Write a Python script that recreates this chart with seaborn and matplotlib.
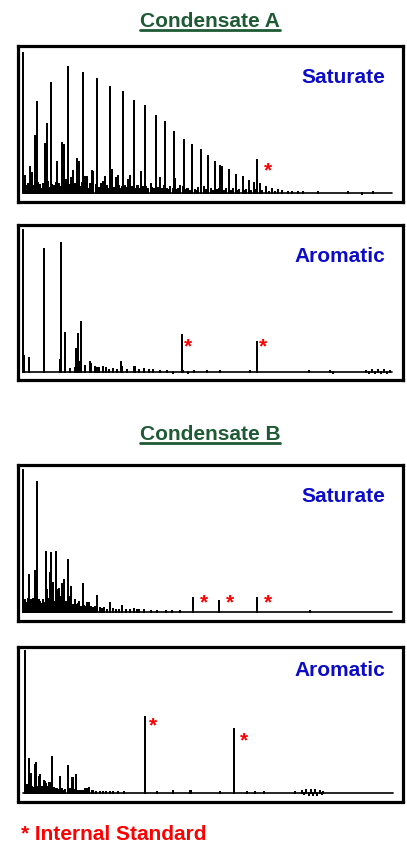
import pandas as pd
import matplotlib
matplotlib.use("Agg")
import matplotlib.pyplot as plt
from matplotlib.lines import Line2D
import seaborn as sns

# peak lists: (retention position 0-100, relative height 0-100)
sat_a_peaks = [
    (0.0, 100), (3.1, 40.7), (3.6, 64.8), (5.9, 34.9), (6.3, 49.3), (7.4, 78.9),
    (10.4, 35.4), (10.9, 34.2), (12.0, 90.4), (16.1, 85.9), (20.0, 81.6), (23.5, 75.8),
    (27.0, 72.2), (30.0, 65.8), (32.9, 62.2), (35.9, 55.0), (38.5, 50.5), (41.0, 43.5),
    (43.5, 38.0), (45.8, 34.2), (48.1, 30.4), (50.1, 26.3), (52.1, 22.0), (53.4, 19.4),
    (54.0, 18.7), (55.8, 16.0), (57.7, 12.9), (59.5, 11.0), (61.2, 8.4), (62.6, 7.2),
    (63.5, 23.4), (64.3, 6.0), (65.9, 4.3), (67.4, 2.9), (69.0, 1.9), (70.3, 1.2),
    (71.7, 0.7), (73.0, 0.5), (74.4, 0.4),
]
sat_a_minor = [
    (0.3, 12), (1.9, 18.7), (2.2, 14), (4.5, 5.5), (5.5, 4), (6.8, 3), (8.2, 4.5),
    (9.1, 22.3), (9.6, 6), (11.6, 9), (13.0, 10.5), (13.4, 15.8), (14.6, 24), (15.0, 22),
    (16.7, 11), (17.2, 11.5), (18.5, 15.8), (18.8, 15), (21.7, 8), (22.2, 11.3),
    (24.0, 16.3), (25.2, 10.5), (25.6, 12), (26.9, 4), (28.3, 9), (29.0, 12), (30.8, 4.5),
    (32.0, 15), (33.4, 4), (34.5, 6), (37.1, 10.3), (38.3, 5), (39.8, 4.3), (41.2, 9.6),
    (42.5, 5), (43.3, 4), (44.8, 3), (47.5, 3.2), (48.9, 4.3), (50.8, 3), (53.0, 2.5),
    (55.0, 2.5), (56.9, 2.5), (58.6, 2), (60.4, 2), (63.0, 1.8),
]
sat_a_grass = [
    (0.8, 4.5), (1.3, 6), (2.6, 5), (3.4, 3.5), (4.0, 7), (4.9, 3), (5.2, 6.5), (6.0, 4),
    (6.6, 8), (7.0, 3.5), (7.8, 5.5), (8.5, 3), (8.8, 7), (10.0, 4), (10.6, 6), (11.2, 3.5),
    (12.4, 5.5), (12.8, 3), (14.0, 6), (15.4, 4), (15.8, 7), (16.4, 3.5), (17.0, 5),
    (17.8, 3), (18.2, 6.5), (19.0, 4), (19.6, 5.5), (20.5, 3.5), (21.0, 6), (22.6, 4.5),
    (23.0, 3), (23.9, 5), (24.5, 3.5), (25.9, 4.5), (26.4, 3), (27.5, 5), (28.0, 3.5),
    (29.5, 4), (30.4, 3), (31.2, 5), (31.6, 3), (32.5, 4), (33.8, 3), (34.9, 3.5),
    (35.5, 2.5), (36.5, 3.5), (37.6, 2.5), (38.9, 3), (39.4, 2), (40.5, 3), (41.6, 2),
    (42.0, 3), (43.9, 2), (44.4, 2.5), (45.3, 1.5), (46.5, 2), (47.0, 1.5), (49.5, 2),
    (51.5, 1.5), (52.6, 2), (54.5, 1.5), (56.3, 1.5), (58.0, 1.2), (59.9, 1.2), (61.8, 1),
    (64.8, 1), (66.6, 0.8), (68.2, 0.6), (76.0, 0.3), (80.0, 0.3), (88.0, 0.2),
    (92.0, -0.6), (95.0, 0.6),
]
sat_a_stars = [(66.5, 19.9)]

aro_a_peaks = [
    (0.0, 100), (0.2, 11.3), (1.6, 9.9), (5.7, 86.6), (9.8, 8.2), (10.3, 91.1),
    (11.3, 27.5), (12.7, 1.6), (14.0, 2.4), (14.3, 16), (14.7, 26.6), (15.2, 7),
    (15.7, 35.3), (16.7, 4), (18.1, 6.6), (18.4, 5.5), (19.3, 3.5), (19.9, 2.4),
    (20.5, 2.4), (21.7, 3), (22.4, 2.4), (23.2, 1.4), (24.4, 1.6), (25.3, 1.2),
    (26.4, 7), (26.7, 3.5), (28.1, 1.4), (29.9, 3.5), (30.3, 3), (31.4, 1.2), (32.6, 1.6),
    (34.0, 1.0), (35.3, 1.2), (37.0, 0.8), (38.9, 0.7), (40.5, -0.8), (43.0, 25.9),
    (43.3, 0.5), (44.6, -0.6), (46.2, 0.5), (49.7, 0.4), (53.4, 0.5), (61.5, 0.4),
    (63.3, 20.7), (77.5, 0.4), (83.3, 0.6), (84.0, -0.6), (93.0, 0.8), (93.8, -0.8),
    (94.6, 1.0), (95.4, -0.9), (96.2, 0.9), (97.0, -0.8), (97.8, 1.0), (98.6, -0.7),
    (99.4, 0.8),
]
aro_a_stars = [(44.8, 21.9), (65.0, 21.9)]

sat_b_peaks = [
    (0.0, 100), (0.5, 8.3), (1.6, 25.9), (2.3, 8.2), (3.1, 28.7), (3.8, 91.3), (4.5, 7),
    (6.0, 14), (6.2, 41.9), (6.5, 15.3), (7.1, 27.5), (7.4, 41.2), (8.0, 20), (8.8, 42.4),
    (9.2, 15.3), (9.6, 15.8), (10.2, 10.6), (10.5, 19.5), (11.1, 22.4), (12.1, 36.5),
    (12.5, 10.6), (13.0, 17.6), (14.0, 8.2), (15.2, 7), (16.1, 19.5), (17.4, 6),
    (17.9, 6.4), (20.0, 11), (20.8, 2.4), (23.5, 6.4), (26.8, 4), (30.1, 2.1),
    (30.8, 1.2), (32.8, 1), (36.2, 0.5), (38.6, 0.3), (45.9, 9.4), (53.2, 7.8),
    (63.5, 9.4), (77.8, 0.3),
]
sat_b_grass = [
    (0.9, 6), (1.2, 9), (2.0, 8), (2.7, 9), (3.4, 7), (4.1, 8), (4.9, 5.5), (5.3, 8),
    (5.7, 6), (6.8, 9), (7.7, 8), (8.4, 7), (9.9, 6.5), (10.8, 5.5), (11.5, 7),
    (11.8, 5), (12.8, 6), (13.5, 5), (14.4, 4.5), (14.8, 5.5), (15.6, 3.5), (16.5, 4),
    (17.0, 3), (18.4, 3.5), (19.0, 2.5), (19.5, 3), (21.3, 2), (22.0, 2.5), (22.7, 1.5),
    (24.3, 2), (25.2, 1.5), (26.0, 1.5), (27.8, 1.2), (28.9, 1.5), (31.5, 1), (34.5, 0.8),
    (40.2, 0.3), (42.5, 0.2),
]
sat_b_stars = [(49.1, 10.6), (56.1, 10.6), (66.3, 10.6)]

aro_b_peaks = [
    (0.45, 100), (0.9, 5.4), (1.6, 23.7), (2.0, 13.1), (2.4, 4.2), (3.1, 19.5),
    (3.3, 20.7), (4.1, 11.3), (4.4, 12.4), (5.0, 4.2), (5.5, 8), (5.9, 7.7), (6.2, 6),
    (7.0, 6.6), (7.2, 6.6), (7.7, 24.9), (8.6, 2.3), (9.5, 1.9), (10.0, 11.3),
    (10.9, 1.4), (12.1, 18.8), (13.1, 10.6), (13.4, 10.1), (14.3, 12.4), (14.7, 1.4),
    (15.4, 0.9), (16.7, 2.3), (17.4, 2.8), (17.9, 3.0), (19.0, 0.9), (20.8, 0.7),
    (22.5, 0.5), (24.4, 0.5), (27.3, 0.5), (32.9, 53.5), (36.2, 0.7), (40.7, 1.2),
    (45.2, 1.2), (45.4, 0.9), (53.4, 0.5), (57.1, 44.8), (60.6, 0.5), (62.9, 0.7),
    (65.2, 0.5), (73.8, 0.5), (75.6, 1.0), (76.2, -1.2), (76.8, 1.6), (77.4, -1.5),
    (78.0, 1.8), (78.6, -1.6), (79.2, 2.0), (79.8, -1.4), (80.4, 1.5), (81.0, -1.0),
    (81.4, 0.8),
]
aro_b_grass = [
    (1.1, 3), (2.7, 3.5), (3.7, 4), (4.7, 3), (6.5, 4), (8.2, 3), (9.0, 2.5), (10.5, 2.5),
    (11.4, 2), (12.6, 2.5), (13.8, 2), (15.9, 1.5), (16.2, 1.2), (18.5, 1.2), (19.8, 0.8),
    (21.6, 0.6), (23.5, 0.5), (25.8, 0.4),
]
aro_b_stars = [(35.3, 51.7), (60.0, 40.6)]

panel_titles = ["Condensate A", "Condensate B"]
panel_labels = ["Saturate", "Aromatic", "Saturate", "Aromatic"]
legend_text = "* Internal Standard"

GREEN = "#1e5b35"
BLUE = "#0c0cc8"
RED = "#ff0000"
FONT = "Liberation Sans"

W, H = 407, 844


def build_trace(peaks, end):
    rows = [(0.0, 0.0)]
    for rt, h in sorted(peaks):
        rows += [(rt, 0.0), (rt, h), (rt, 0.0)]
    rows.append((end, 0.0))
    return pd.DataFrame(rows, columns=["rt", "signal"])


sns.set_style("white")
plt.rcParams["font.family"] = [FONT, "DejaVu Sans"]

fig = plt.figure(figsize=(W / 100, H / 100), dpi=100)

# (peaks, stars, label, top px, bottom px, ylim, label baseline px, trace end)
panels = [
    (sat_a_peaks + sat_a_minor + sat_a_grass, sat_a_stars, panel_labels[0],
     45.5, 201.5, (-6.3, 105.6), 83, 100.0),
    (aro_a_peaks, aro_a_stars, panel_labels[1], 224.5, 379.5, (-5.5, 103.9), 262, 100.0),
    (sat_b_peaks + sat_b_grass, sat_b_stars, panel_labels[2],
     464.5, 620.5, (-6.2, 103.9), 502, 100.0),
    (aro_b_peaks + aro_b_grass, aro_b_stars, panel_labels[3],
     646.5, 801.5, (-6.2, 103.0), 676, 100.3),
]

left_px, right_px = 17.5, 402.5
for peaks, stars, label, top, bottom, ylim, lab_y, end in panels:
    ax = fig.add_axes([left_px / W, 1 - bottom / H, (right_px - left_px) / W, (bottom - top) / H])
    df = build_trace(peaks, end)
    sns.lineplot(data=df, x="rt", y="signal", sort=False, estimator=None,
                 color="black", lw=1.2, ax=ax)
    ax.set_xlim(-1.6, 102.9)
    ax.set_ylim(*ylim)
    ax.set_xticks([])
    ax.set_yticks([])
    ax.set_xlabel("")
    ax.set_ylabel("")
    for sp in ax.spines.values():
        sp.set_visible(True)
        sp.set_linewidth(2.3)
        sp.set_color("black")
    for sx, sy in stars:
        ax.annotate("*", xy=(sx, sy), xytext=(0, -8.5), textcoords="offset points",
                    ha="center", va="baseline", color=RED, fontsize=15, fontweight="bold")
    fig.text(385 / W, 1 - lab_y / H, label, ha="right", va="baseline",
             color=BLUE, fontsize=15, fontweight="bold")

# section titles with underline
renderer = fig.canvas.get_renderer()
for title, base_px in zip(panel_titles, [26.7, 440.0]):
    t = fig.text(210 / W, 1 - base_px / H, title, ha="center", va="baseline",
                 color=GREEN, fontsize=15, fontweight="bold")
    bb = t.get_window_extent(renderer=renderer)
    uy = 1 - (base_px + 3) / H
    fig.add_artist(Line2D([bb.x0 / W, bb.x1 / W], [uy, uy], color=GREEN, lw=2.0,
                          transform=fig.transFigure))

fig.text(21 / W, 1 - 840 / H, legend_text, ha="left", va="baseline",
         color=RED, fontsize=15, fontweight="bold")

fig.savefig("out.png", dpi=100)
